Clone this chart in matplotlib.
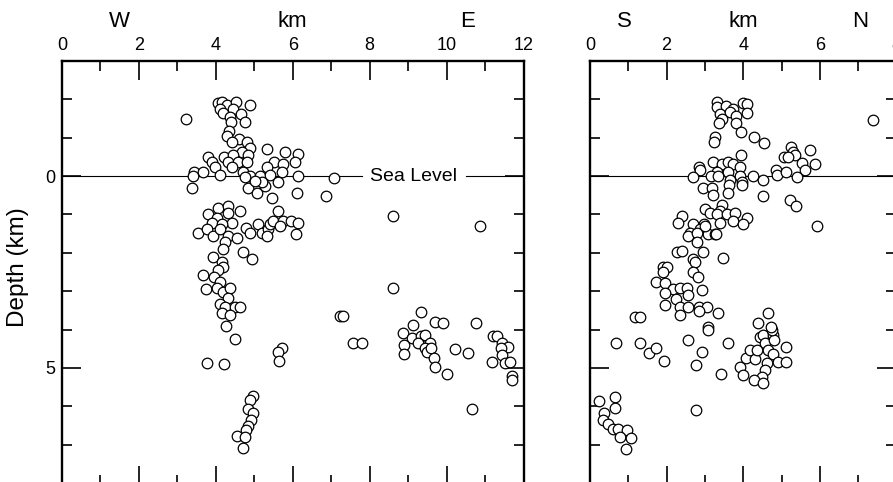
import matplotlib.pyplot as plt
from matplotlib.ticker import MultipleLocator, FixedLocator
from matplotlib.transforms import blended_transform_factory

plt.rcParams['font.family'] = ['Liberation Sans', 'DejaVu Sans']

# W-E section: distance (km) and depth (km, below sea level positive)
we_x = [3.22, 4.06, 4.16, 4.29, 4.53, 4.89, 4.11, 4.19, 4.45, 4.66, 4.37, 4.76, 4.40, 4.34,
        4.29, 4.60, 4.42, 4.81, 4.89, 4.68, 5.33, 5.80, 6.14, 3.80, 4.21, 4.45, 4.84, 3.90,
        3.98, 4.32, 4.58, 4.81, 5.51, 5.75, 6.06, 5.33, 3.43, 3.67, 4.42, 4.11, 4.71, 4.89,
        3.41, 4.76, 5.15, 5.41, 5.72, 6.14, 7.07, 3.38, 4.84, 5.07, 5.28, 5.62, 6.11, 5.46,
        6.87, 5.20, 5.02, 8.61,
        4.06, 4.32, 4.63, 3.80, 4.03, 4.32, 4.42, 3.90, 4.16, 3.54, 3.77, 3.93, 4.11, 4.32,
        4.55, 4.79, 4.89, 5.10, 5.20, 5.36, 5.41, 5.49, 5.62, 5.75, 5.67, 5.96, 6.14, 6.09,
        5.33, 4.24, 4.19, 4.71, 4.94, 3.93, 4.16, 4.19, 4.06, 3.67, 3.95, 4.11, 3.75, 4.03,
        4.19, 4.37, 4.32, 4.11, 4.24, 4.50, 4.63, 4.16, 4.37, 4.26, 4.50, 3.77, 4.21, 5.72,
        5.62, 5.64, 4.97, 4.89, 4.84, 4.97, 4.92, 4.84, 4.79, 4.55, 4.76, 4.71,
        10.87, 8.61, 7.23, 7.31, 7.57, 7.80, 9.34, 9.13, 8.87, 9.10, 8.89, 8.89, 9.34, 9.44,
        9.26, 9.57, 9.44, 9.49, 9.60, 9.70, 9.91, 9.67, 9.70, 10.01, 10.22, 10.56, 10.77,
        11.21, 11.31, 11.44, 11.60, 11.42, 11.44, 11.18, 11.52, 11.65, 11.70, 11.70, 10.66]
we_depth = [-1.48, -1.90, -1.92, -1.85, -1.92, -1.85, -1.74, -1.64, -1.74, -1.61, -1.53, -1.40,
            -1.40, -1.17, -1.04, -0.98, -0.88, -0.88, -0.72, -0.64, -0.70, -0.64, -0.57, -0.51,
            -0.51, -0.54, -0.54, -0.36, -0.25, -0.38, -0.38, -0.38, -0.36, -0.31, -0.36, -0.25,
            -0.12, -0.10, -0.23, -0.02, -0.10, 0.01, 0.01, 0.03, 0.01, -0.02, -0.10, 0.01, 0.06,
            0.32, 0.30, 0.45, 0.27, 0.16, 0.43, 0.58, 0.53, 0.16, 0.14, 1.05,
            0.82, 0.79, 0.92, 1.00, 1.08, 0.95, 1.21, 1.21, 1.26, 1.47, 1.39, 1.57, 1.39, 1.55,
            1.60, 1.34, 1.47, 1.26, 1.47, 1.39, 1.26, 1.18, 0.92, 1.16, 1.31, 1.18, 1.21, 1.52,
            1.55, 1.73, 1.91, 1.99, 2.15, 2.10, 2.25, 2.36, 2.44, 2.57, 2.64, 2.75, 2.93, 2.91,
            3.01, 2.91, 3.17, 3.32, 3.40, 3.40, 3.40, 3.58, 3.61, 3.90, 4.24, 4.86, 4.89, 4.47,
            4.58, 4.81, 5.72, 5.83, 6.06, 6.17, 6.35, 6.51, 6.61, 6.77, 6.80, 7.08,
            1.31, 2.91, 3.64, 3.64, 4.34, 4.34, 3.53, 3.87, 4.08, 4.21, 4.39, 4.63, 4.16, 4.13,
            4.34, 4.34, 4.47, 4.58, 4.47, 3.79, 3.82, 4.73, 4.97, 5.15, 4.50, 4.60, 3.82,
            4.16, 4.16, 4.34, 4.45, 4.47, 4.66, 4.84, 4.86, 4.84, 5.20, 5.31, 6.06]

# S-N section
sn_x = [3.32, 3.32, 3.55, 3.73, 3.99, 4.10, 3.39, 3.66, 3.81, 4.10, 3.45, 3.37, 3.81, 3.94,
        3.26, 3.24, 4.28, 4.54, 3.94, 3.21, 3.45, 3.60, 3.73, 3.92, 2.85, 2.87, 3.32, 3.60,
        3.92, 2.69, 3.16, 3.34, 3.66, 3.97, 4.26, 4.52, 2.95, 3.19, 3.63, 3.97, 3.21, 3.60,
        4.52, 4.86, 4.88, 5.12, 5.07, 5.25, 5.30, 5.35, 5.17, 5.54, 5.74, 5.87, 5.61, 5.40,
        5.22, 5.38, 5.93, 7.39,
        3.45, 3.39, 3.00, 3.13, 3.32, 3.58, 3.79, 4.10, 2.40, 2.30, 2.69, 2.98, 3.39, 3.73,
        3.99, 2.61, 2.87, 3.08, 3.26, 2.56, 2.79, 3.00, 3.29, 2.79, 2.95, 3.47, 2.27, 2.40,
        2.69, 2.74, 1.91, 2.01, 1.91, 2.69, 2.82, 1.72, 1.96, 2.17, 2.35, 2.53, 2.92, 1.96,
        2.25, 2.56, 1.96, 2.35, 2.56, 2.85, 3.05, 2.35, 2.85, 3.34, 3.08, 1.17, 1.31, 4.65,
        0.68, 1.31, 1.54, 1.72, 1.93, 2.56, 2.92, 2.77, 3.60, 3.42, 3.08,
        3.92, 3.99, 4.07, 4.18, 4.31, 4.36, 4.44, 4.52, 4.57, 4.65, 4.62, 4.57, 4.49, 4.28,
        4.52, 4.78, 4.80, 4.78, 4.91, 5.12, 5.12, 4.75, 4.39, 4.73,
        2.77, 0.23, 0.37, 0.65, 0.65, 0.34, 0.47, 0.60, 0.73, 0.97, 0.78, 1.07, 0.94]
sn_depth = [-1.92, -1.79, -1.82, -1.74, -1.90, -1.87, -1.61, -1.66, -1.56, -1.64, -1.48, -1.38,
            -1.38, -1.14, -1.01, -0.88, -1.01, -0.85, -0.54, -0.36, -0.31, -0.36, -0.31, -0.23,
            -0.23, -0.15, -0.12, -0.10, 0.01, 0.03, 0.01, 0.01, 0.09, 0.16, 0.01, 0.11, 0.32,
            0.30, 0.22, 0.22, 0.48, 0.43, 0.53, -0.15, -0.02, -0.10, -0.49, -0.75, -0.64, -0.54,
            -0.51, -0.33, -0.67, -0.31, -0.17, 0.03, 0.61, 0.79, 1.31, -1.45,
            0.74, 0.92, 0.87, 0.95, 1.00, 1.00, 0.95, 1.08, 1.05, 1.21, 1.26, 1.26, 1.21, 1.18,
            1.26, 1.47, 1.39, 1.50, 1.50, 1.57, 1.47, 1.31, 1.52, 1.73, 1.97, 2.13, 1.99, 1.94,
            2.17, 2.25, 2.36, 2.36, 2.51, 2.49, 2.64, 2.75, 2.78, 2.93, 2.91, 2.91, 2.96, 3.04,
            3.19, 3.11, 3.35, 3.40, 3.40, 3.40, 3.40, 3.61, 3.51, 3.58, 3.92, 3.66, 3.66, 3.56,
            4.34, 4.34, 4.60, 4.47, 4.81, 4.26, 4.58, 4.92, 4.34, 5.15, 4.00,
            4.97, 5.18, 4.73, 4.52, 4.76, 4.52, 4.18, 4.13, 4.34, 4.52, 4.86, 5.05, 5.23, 5.31,
            5.39, 4.13, 4.26, 4.63, 4.84, 4.45, 4.84, 4.00, 3.82, 3.92,
            6.09, 5.86, 6.17, 5.75, 6.04, 6.35, 6.46, 6.59, 6.59, 6.61, 6.80, 6.82, 7.11]


def style_axes(ax, xmax):
    ax.set_xlim(0, xmax)
    ax.set_ylim(8.05, -3.0)
    ax.xaxis.set_major_locator(MultipleLocator(2))
    ax.xaxis.set_minor_locator(MultipleLocator(1))
    ax.yaxis.set_major_locator(FixedLocator([0, 5]))
    ax.yaxis.set_minor_locator(MultipleLocator(1))
    ax.tick_params(which='both', direction='in', top=True, bottom=True, left=True, right=True,
                   labeltop=True, labelbottom=False, width=1.2, labelsize=13, pad=5)
    ax.tick_params(which='major', length=14)
    ax.tick_params(which='minor', length=7)
    for s in ax.spines.values():
        s.set_linewidth(1.7)


fig = plt.figure(figsize=(8.93, 4.82), dpi=100)
ax1 = fig.add_axes([62 / 893, -3 / 482, 461.5 / 893, 424 / 482])
ax2 = fig.add_axes([590 / 893, -3 / 482, 306.4 / 893, 424 / 482])

style_axes(ax1, 12)
style_axes(ax2, 8)
ax2.tick_params(labelleft=False)

# sea level
ax1.plot([0, 7.8], [0, 0], color='black', lw=0.8, zorder=1)
ax1.plot([10.5, 12], [0, 0], color='black', lw=0.8, zorder=1)
ax1.text(9.15, 0, 'Sea Level', ha='center', va='center', fontsize=14)
ax2.axhline(0, color='black', lw=0.8, zorder=1)

ax1.scatter(we_x, we_depth, s=58, facecolors='white', edgecolors='black', linewidths=0.9,
            zorder=3, clip_on=False)
ax2.scatter(sn_x, sn_depth, s=58, facecolors='white', edgecolors='black', linewidths=0.9,
            zorder=3, clip_on=False)

tr1 = blended_transform_factory(ax1.transData, ax1.transAxes)
tr2 = blended_transform_factory(ax2.transData, ax2.transAxes)
for x, t in [(1.5, 'W'), (6.0, 'km'), (10.55, 'E')]:
    ax1.text(x, 1.092, t, transform=tr1, ha='center', va='center', fontsize=16)
for x, t in [(0.9, 'S'), (4.0, 'km'), (7.05, 'N')]:
    ax2.text(x, 1.092, t, transform=tr2, ha='center', va='center', fontsize=16)

fig.text(18 / 893, (482 - 267) / 482, 'Depth (km)', rotation=90, ha='center', va='center',
         fontsize=17.5)

fig.savefig('out.png', dpi=100)
